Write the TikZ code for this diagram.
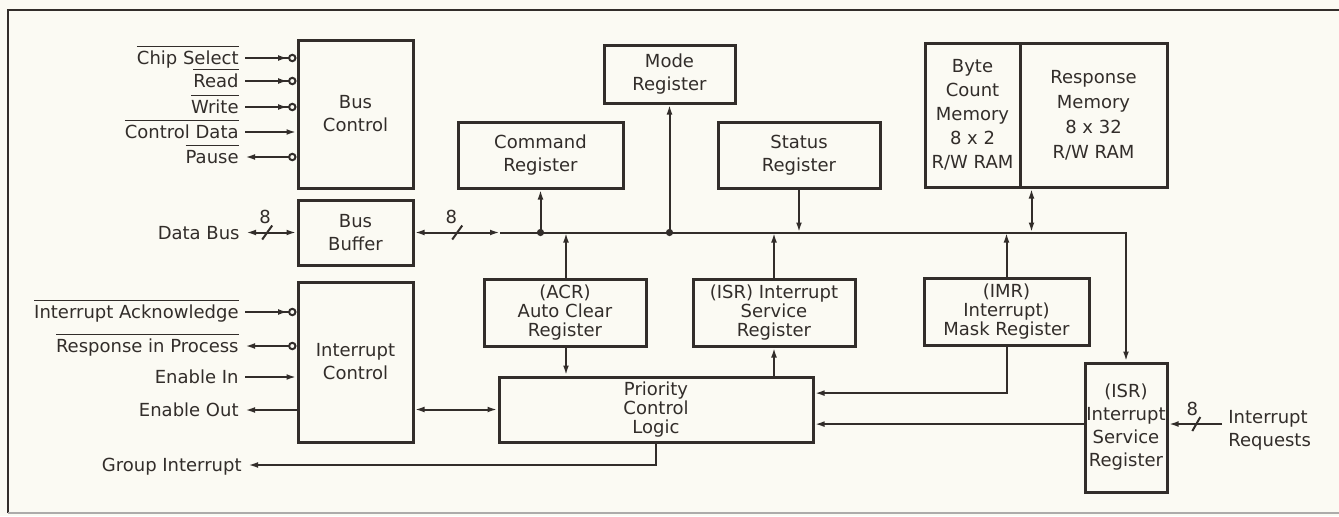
\documentclass[tikz,border=0pt]{standalone}
\usepackage{fontspec}
\setmainfont{DejaVu Sans}
\usetikzlibrary{arrows.meta,positioning,calc}

\definecolor{ink}{RGB}{50,45,42}
\definecolor{paper}{RGB}{251,250,243}

% overlined (active low) signal names
\newlength\ovlwd
\newcommand\ovl[1]{\settowidth\ovlwd{#1}\rlap{\rule[8.8pt]{\ovlwd}{0.6pt}}#1}

\tikzset{
  reg/.style={draw=ink, line width=1.5pt, align=center, inner sep=1pt},
  sig/.style={anchor=east, text height=7pt, text depth=0.4pt, inner sep=3pt},
  wire/.style={draw=ink, line width=1pt},
  tight/.style={font=\fontsize{9}{9.4}\selectfont},
  inbub/.style={-{Latex[length=5pt,width=2.9pt] Circle[open,length=4.2pt,width=4.2pt]}},
  outbub/.style={{Latex[length=5pt,width=2.9pt]}-{Circle[open,length=4.2pt,width=4.2pt]}},
}

\begin{document}
\begin{tikzpicture}[x=0.5pt, y=-0.5pt, font=\fontsize{9}{11.5}\selectfont,
  every node/.style={text=ink}, >={Latex[length=5pt,width=2.9pt]}]
\fill[paper] (0,0) rectangle (1339,516);
\useasboundingbox (0,0) rectangle (1339,516);
\draw[ink, line width=1.1pt] (1339,10) -- (8,10) -- (8,513);
\draw[ink!40, line width=0.8pt] (8,513) -- (1339,513);

% blocks
\node[reg, minimum width=57.5pt, minimum height=74pt] (busctl) at (355.5,114) {Bus\\Control};
\node[reg, minimum width=57.5pt, minimum height=32.5pt] (busbuf) at (355.5,232.5) {Bus\\Buffer};
\node[reg, minimum width=57.5pt, minimum height=80pt] (intctl) at (355.5,362) {Interrupt\\Control};
\node[reg, minimum width=82.5pt, minimum height=33pt] (cmdreg) at (540.5,155) {Command\\Register};
\node[reg, minimum width=65.5pt, minimum height=29pt] (modereg) at (669.5,74) {Mode\\Register};
\node[reg, minimum width=81pt, minimum height=33pt] (statreg) at (799,155) {Status\\Register};
\node[reg, font=\fontsize{9}{12}\selectfont, minimum width=47.5pt, minimum height=72pt] (bytemem) at (972.5,115) {Byte\\Count\\Memory\\8 x 2\\R/W RAM};
\node[reg, font=\fontsize{9}{12.5}\selectfont, minimum width=73.5pt, minimum height=72pt] (respmem) at (1093.5,115) {Response\\Memory\\8 x 32\\R/W RAM};
\node[reg, tight, minimum width=81pt, minimum height=33.5pt] (acr) at (565,312.5) {(ACR)\\Auto Clear\\Register};
\node[reg, tight, minimum width=81pt, minimum height=33.5pt] (isrmid) at (774,312.5) {(ISR) Interrupt\\Service\\Register};
\node[reg, tight, minimum width=82.5pt, minimum height=33.5pt] (imr) at (1006.5,311.5) {(IMR)\\Interrupt)\\Mask Register};
\node[reg, tight, minimum width=157pt, minimum height=32.5pt] (prio) at (656,409.5) {Priority\\Control\\Logic};
\node[reg, inner sep=0pt, minimum width=41pt, minimum height=64.5pt] (isrr) at (1126,427.5) {(ISR)\\Interrupt\\Service\\Register};

% bus control signals
\node[sig] (lcs) at (245,58) {\ovl{Chip Select}};
\node[sig] (lrd) at (245,81) {\ovl{Read}};
\node[sig] (lwr) at (245,107) {\ovl{Write}};
\node[sig] (lcd) at (245,132) {\ovl{Control Data}};
\node[sig] (lpa) at (245,157) {\ovl{Pause}};
\draw[wire, inbub] (lcs.east) -- (lcs.east -| busctl.west);
\draw[wire, inbub] (lrd.east) -- (lrd.east -| busctl.west);
\draw[wire, inbub] (lwr.east) -- (lwr.east -| busctl.west);
\draw[wire, ->] (lcd.east) -- (lcd.east -| busctl.west);
\draw[wire, outbub] (lpa.east) -- (lpa.east -| busctl.west);

% data bus
\node[sig] (ldb) at (246,232.5) {Data Bus};
\draw[wire, <->] (ldb.east) -- coordinate[pos=.42] (s1) (busbuf.west);
\draw[wire] ($(s1)+(-5,7)$) -- ($(s1)+(5,-7)$);
\node[above=4pt of s1, inner sep=0pt, xshift=-1pt] {8};

% interrupt control signals
\node[sig] (lia) at (245,312) {\ovl{Interrupt Acknowledge}};
\node[sig] (lrip) at (245,346) {\ovl{Response in Process}};
\node[sig] (lei) at (245,377) {Enable In};
\node[sig] (leo) at (245,410) {Enable Out};
\node[sig] (lgi) at (248,465) {Group Interrupt};
\draw[wire, inbub] (lia.east) -- (lia.east -| intctl.west);
\draw[wire, outbub] (lrip.east) -- (lrip.east -| intctl.west);
\draw[wire, ->] (lei.east) -- (lei.east -| intctl.west);
\draw[wire, <-] (leo.east) -- (leo.east -| intctl.west);
\draw[wire, <-] (lgi.east) -| (prio.south);
\draw[wire, <->] (intctl.east |- prio.west) -- (prio.west);

% internal bus
\coordinate (ahead) at (500,232.5);
\draw[wire, <->] (busbuf.east) -- coordinate[pos=.5] (s2) (ahead);
\draw[wire] ($(s2)+(-5,7)$) -- ($(s2)+(5,-7)$);
\node[above=4pt of s2, inner sep=0pt, xshift=-3pt] {8};
\draw[wire, ->] (ahead) -| (isrr.north);

\draw[wire, ->] (cmdreg.south |- ahead) -- (cmdreg.south);
\fill[ink] (cmdreg.south |- ahead) circle[radius=1.8pt];
\draw[wire, ->] (modereg.south |- ahead) -- (modereg.south);
\fill[ink] (modereg.south |- ahead) circle[radius=1.8pt];
\draw[wire, ->] (statreg.south) -- (statreg.south |- ahead);
\coordinate (memport) at ([xshift=6.5pt]respmem.south west);
\draw[wire, <->] (memport) -- (memport |- ahead);

\draw[wire, ->] ([xshift=0.5pt]acr.north) -- ([xshift=0.5pt]acr.north |- ahead);
\draw[wire, ->] ([xshift=0.5pt]acr.south) -- ([xshift=0.5pt]acr.south |- prio.north);
\draw[wire, ->] (isrmid.north) -- (isrmid.north |- ahead);
\draw[wire, ->] (isrmid.south |- prio.north) -- (isrmid.south);
\draw[wire, ->] (imr.north) -- (imr.north |- ahead);
\draw[wire, ->] (imr.south) |- ([yshift=8.2pt]prio.east);
\draw[wire, ->] ([yshift=1.7pt]isrr.west) -- ([yshift=1.7pt]isrr.west -| prio.east);

% interrupt requests
\coordinate (irq) at (1222,424);
\node[anchor=north west, align=left, inner sep=0pt] (lir) at (1228,410) {Interrupt\\Requests};
\draw[wire, ->] (irq) -- coordinate[pos=.48] (s3) (irq -| isrr.east);
\draw[wire] ($(s3)+(-4,7)$) -- ($(s3)+(4,-7)$);
\node[above=4pt of s3, inner sep=0pt, xshift=-2pt] {8};
\end{tikzpicture}
\end{document}
